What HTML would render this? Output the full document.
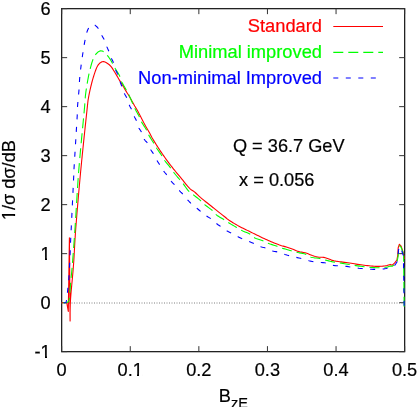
<!DOCTYPE html>
<html><head><meta charset="utf-8"><title>plot</title>
<style>
html,body{margin:0;padding:0;background:#fff;}
svg{display:block;will-change:transform;}
text{font-family:"Liberation Sans",sans-serif;font-size:18.2px;fill:#000;stroke:#000;stroke-width:0.2px;}
</style></head><body>
<svg width="417" height="407" viewBox="0 0 417 407">
<rect width="417" height="407" fill="#fff"/>
<rect x="61.65" y="8.65" width="343.0" height="343.0" fill="none" stroke="#222" stroke-width="1.3"/>
<path d="M61.65,351.65 v-5.5 M61.65,8.65 v5.5 M130.25,351.65 v-5.5 M130.25,8.65 v5.5 M198.85,351.65 v-5.5 M198.85,8.65 v5.5 M267.45,351.65 v-5.5 M267.45,8.65 v5.5 M336.05,351.65 v-5.5 M336.05,8.65 v5.5 M404.65,351.65 v-5.5 M404.65,8.65 v5.5 M61.65,8.65 h5.5 M404.65,8.65 h-5.5 M61.65,57.65 h5.5 M404.65,57.65 h-5.5 M61.65,106.65 h5.5 M404.65,106.65 h-5.5 M61.65,155.65 h5.5 M404.65,155.65 h-5.5 M61.65,204.65 h5.5 M404.65,204.65 h-5.5 M61.65,253.65 h5.5 M404.65,253.65 h-5.5 M61.65,302.65 h5.5 M404.65,302.65 h-5.5 M61.65,351.65 h5.5 M404.65,351.65 h-5.5" stroke="#333" stroke-width="1" fill="none"/>
<path d="M61.5,303 H404.5" stroke="#808080" stroke-width="1" stroke-dasharray="1 1.5" fill="none"/>
<g fill="none" stroke-width="1.1" stroke-linejoin="round">
<path d="M61.65,302.75 L66.80,302.80 L68.30,311.50 L69.40,237.80 L70.10,321 L70.11,320.18 L70.11,319.22 L70.11,318.14 L70.11,316.94 L70.11,315.62 L70.11,314.20 L70.11,312.69 L70.13,311.08 L70.15,309.39 L70.18,307.63 L70.24,305.80 L70.30,303.92 L70.39,301.98 L70.50,300 L70.58,298.76 L70.67,297.47 L70.77,296.14 L70.88,294.77 L70.99,293.36 L71.11,291.92 L71.24,290.44 L71.38,288.94 L71.52,287.41 L71.66,285.86 L71.81,284.29 L71.96,282.70 L72.11,281.10 L72.26,279.49 L72.41,277.87 L72.55,276.25 L72.70,274.63 L72.85,273 L72.99,271.38 L73.12,269.77 L73.26,268.16 L73.38,266.57 L73.50,265 L73.61,263.51 L73.71,262.05 L73.80,260.61 L73.89,259.19 L73.98,257.78 L74.06,256.38 L74.14,254.99 L74.22,253.59 L74.30,252.19 L74.37,250.79 L74.45,249.37 L74.53,247.94 L74.60,246.48 L74.69,245.01 L74.77,243.50 L74.86,241.96 L74.95,240.39 L75.05,238.77 L75.16,237.11 L75.27,235.41 L75.39,233.64 L75.52,231.82 L75.65,229.95 L75.80,228 L75.90,226.74 L76,225.45 L76.10,224.13 L76.21,222.79 L76.31,221.43 L76.43,220.04 L76.54,218.63 L76.65,217.20 L76.77,215.75 L76.89,214.29 L77.01,212.80 L77.14,211.30 L77.26,209.79 L77.39,208.26 L77.52,206.72 L77.65,205.16 L77.79,203.60 L77.92,202.02 L78.06,200.44 L78.19,198.84 L78.33,197.25 L78.47,195.64 L78.61,194.03 L78.75,192.42 L78.90,190.80 L79.04,189.18 L79.18,187.56 L79.33,185.94 L79.48,184.32 L79.62,182.71 L79.77,181.10 L79.92,179.49 L80.06,177.89 L80.21,176.29 L80.36,174.71 L80.50,173.13 L80.65,171.56 L80.80,170 L80.94,168.51 L81.09,166.99 L81.24,165.44 L81.39,163.87 L81.55,162.27 L81.71,160.66 L81.87,159.02 L82.04,157.37 L82.20,155.71 L82.37,154.03 L82.54,152.35 L82.72,150.66 L82.89,148.97 L83.06,147.27 L83.24,145.57 L83.41,143.88 L83.59,142.19 L83.76,140.51 L83.94,138.84 L84.11,137.17 L84.29,135.53 L84.46,133.90 L84.63,132.29 L84.79,130.70 L84.96,129.13 L85.12,127.59 L85.28,126.08 L85.44,124.59 L85.59,123.14 L85.75,121.73 L85.89,120.35 L86.04,119.01 L86.17,117.71 L86.31,116.46 L86.44,115.26 L86.56,114.10 L86.68,112.99 L86.79,111.94 L86.90,110.94 L87,110 L87.41,106.14 L87.69,103.49 L87.88,101.76 L88.01,100.68 L88.11,99.96 L88.22,99.33 L88.37,98.50 L88.60,97.20 L88.86,95.73 L89.16,94.22 L89.47,92.69 L89.79,91.16 L90.13,89.63 L90.48,88.13 L90.82,86.66 L91.17,85.25 L91.50,83.90 L91.92,82.25 L92.35,80.65 L92.78,79.12 L93.22,77.65 L93.65,76.24 L94.08,74.89 L94.50,73.60 L95.08,71.87 L95.66,70.24 L96.24,68.74 L96.82,67.38 L97.40,66.20 L98.39,64.66 L99.38,63.54 L100.40,62.70 L101.94,61.81 L103.60,61.60 L105.59,62.31 L107.60,63.50 L109.32,64.74 L110.90,66.30 L111.89,67.63 L112.84,69.14 L113.80,70.70 L114.80,72.29 L115.80,73.94 L116.80,75.60 L117.77,77.26 L118.73,78.94 L119.70,80.60 L120.70,82.24 L121.70,83.87 L122.70,85.50 L123.63,87.06 L124.54,88.62 L125.60,90.40 L126.35,91.62 L127.15,92.93 L128.01,94.31 L128.89,95.77 L129.80,97.30 L130.60,98.69 L131.45,100.20 L132.33,101.77 L133.18,103.31 L133.99,104.74 L134.70,106 L135.79,107.81 L136.67,109.21 L137.70,111 L138.37,112.26 L139.13,113.71 L139.93,115.26 L140.72,116.81 L141.46,118.26 L142.10,119.50 L142.99,121.24 L143.66,122.56 L144.60,124.30 L145.29,125.52 L146.10,126.93 L146.98,128.43 L147.87,129.96 L148.73,131.44 L149.50,132.80 L150.26,134.19 L150.89,135.43 L151.51,136.63 L152.21,137.95 L153.10,139.50 L153.78,140.63 L154.52,141.86 L155.32,143.15 L156.16,144.51 L157.03,145.89 L157.92,147.28 L158.82,148.66 L159.70,150 L160.59,151.33 L161.49,152.67 L162.42,154.01 L163.35,155.36 L164.29,156.69 L165.23,158.02 L166.17,159.32 L167.10,160.60 L168.03,161.85 L168.95,163.09 L169.88,164.30 L170.80,165.51 L171.72,166.70 L172.65,167.87 L173.57,169.04 L174.50,170.20 L175.57,171.52 L176.66,172.84 L177.75,174.15 L178.83,175.43 L179.90,176.69 L180.92,177.92 L181.90,179.10 L183,180.45 L184.06,181.79 L185.08,183.08 L186.05,184.30 L186.96,185.42 L187.80,186.40 L189.22,187.94 L190.40,189.06 L191.50,190 L192.86,190.83 L194.50,191.90 L195.45,192.74 L196.51,193.76 L197.69,194.91 L198.99,196.14 L200.40,197.40 L201.52,198.34 L202.74,199.35 L204.04,200.39 L205.37,201.46 L206.70,202.51 L207.99,203.53 L209.20,204.50 L210.50,205.54 L211.73,206.53 L212.92,207.48 L214.11,208.43 L215.32,209.39 L216.60,210.40 L217.79,211.33 L219.05,212.33 L220.36,213.35 L221.65,214.37 L222.88,215.33 L224.02,216.22 L225,217 L226.47,218.25 L227.46,219.13 L229.10,220.30 L230.21,221.02 L231.51,221.83 L232.94,222.70 L234.46,223.60 L236.01,224.51 L237.54,225.39 L239,226.20 L240.39,226.95 L241.77,227.66 L243.14,228.34 L244.52,229.02 L245.92,229.69 L247.34,230.38 L248.80,231.10 L250.13,231.76 L251.49,232.43 L252.89,233.12 L254.29,233.82 L255.70,234.51 L257.10,235.19 L258.47,235.86 L259.80,236.50 L261.27,237.21 L262.71,237.89 L264.13,238.56 L265.52,239.22 L266.91,239.86 L268.30,240.49 L269.70,241.10 L271.14,241.71 L272.63,242.33 L274.13,242.94 L275.61,243.53 L277.02,244.07 L278.33,244.57 L279.50,245 L281.59,245.68 L283.20,246.10 L285,246.60 L286.35,247.01 L287.82,247.46 L289.34,247.93 L290.82,248.42 L292.20,248.90 L293.72,249.54 L295.11,250.21 L296.49,250.85 L298,251.40 L299.75,251.82 L301.64,252.16 L303.48,252.46 L305.10,252.80 L306.77,253.32 L308.14,253.86 L309.50,254.40 L310.91,254.95 L312.32,255.50 L313.80,256 L315.41,256.47 L317.11,256.89 L318.80,257.20 L320.49,257.30 L322.18,257.29 L323.80,257.40 L325.31,257.74 L326.76,258.20 L328.20,258.70 L329.59,259.26 L330.97,259.86 L332.50,260.40 L334.09,260.80 L335.83,261.13 L338.20,261.50 L339.53,261.69 L341.06,261.90 L342.73,262.11 L344.47,262.33 L346.22,262.55 L347.92,262.78 L349.50,263 L351.22,263.27 L352.88,263.54 L354.49,263.82 L356.09,264.09 L357.68,264.36 L359.30,264.60 L360.93,264.83 L362.56,265.05 L364.19,265.26 L365.83,265.46 L367.46,265.64 L369.10,265.80 L370.77,265.95 L372.47,266.10 L374.17,266.22 L375.84,266.33 L377.46,266.39 L379,266.40 L380.83,266.32 L382.68,266.14 L384.40,265.93 L385.86,265.73 L386.90,265.60 L390.30,264.40 L392.30,265.20 L394.70,262.90 L396.90,260 L397.70,255.60 L398.20,247.70 L399.40,244.30 L401.10,246.20 L402.80,251.10 L403.60,254.10 L404.30,259" stroke="#ff0000"/>
<path d="M61.65,302.75 L66.50,302.75 L68.60,301.60 L69.30,299.50 L69.37,298.57 L69.47,297.39 L69.57,296 L69.69,294.45 L69.82,292.76 L69.96,290.97 L70.11,289.14 L70.26,287.28 L70.41,285.45 L70.56,283.68 L70.70,282 L70.83,280.58 L70.95,279.25 L71.08,277.98 L71.21,276.74 L71.34,275.50 L71.47,274.22 L71.61,272.87 L71.75,271.43 L71.90,269.85 L72.06,268.11 L72.22,266.17 L72.40,264 L72.49,262.84 L72.59,261.65 L72.68,260.42 L72.78,259.16 L72.88,257.88 L72.98,256.55 L73.08,255.20 L73.19,253.81 L73.30,252.40 L73.40,250.94 L73.51,249.46 L73.62,247.94 L73.74,246.38 L73.85,244.80 L73.97,243.17 L74.09,241.52 L74.21,239.83 L74.33,238.10 L74.46,236.34 L74.58,234.54 L74.71,232.71 L74.84,230.84 L74.97,228.94 L75.10,227 L75.18,225.75 L75.27,224.48 L75.35,223.18 L75.44,221.86 L75.52,220.51 L75.61,219.15 L75.70,217.77 L75.78,216.36 L75.87,214.94 L75.96,213.51 L76.04,212.05 L76.13,210.58 L76.22,209.10 L76.31,207.60 L76.40,206.09 L76.49,204.57 L76.59,203.03 L76.68,201.49 L76.77,199.94 L76.87,198.38 L76.97,196.81 L77.06,195.24 L77.16,193.66 L77.26,192.08 L77.36,190.49 L77.46,188.90 L77.57,187.31 L77.67,185.72 L77.78,184.13 L77.89,182.55 L77.99,180.96 L78.10,179.38 L78.22,177.80 L78.33,176.23 L78.44,174.66 L78.56,173.10 L78.68,171.54 L78.80,170 L78.92,168.52 L79.04,167.02 L79.17,165.48 L79.30,163.92 L79.43,162.34 L79.57,160.74 L79.71,159.12 L79.85,157.48 L80,155.84 L80.15,154.18 L80.30,152.51 L80.45,150.83 L80.60,149.15 L80.76,147.46 L80.92,145.78 L81.07,144.09 L81.23,142.42 L81.39,140.74 L81.54,139.08 L81.70,137.42 L81.86,135.78 L82.01,134.16 L82.16,132.55 L82.32,130.96 L82.47,129.39 L82.61,127.85 L82.76,126.33 L82.90,124.85 L83.04,123.39 L83.18,121.96 L83.31,120.57 L83.44,119.22 L83.56,117.91 L83.69,116.63 L83.80,115.41 L83.91,114.22 L84.02,113.09 L84.12,112.01 L84.21,110.98 L84.30,110 L84.60,106.62 L84.81,103.99 L84.97,101.98 L85.07,100.44 L85.15,99.27 L85.21,98.32 L85.27,97.47 L85.34,96.58 L85.45,95.54 L85.60,94.20 L85.81,92.49 L86.05,90.77 L86.30,89.06 L86.56,87.35 L86.83,85.67 L87.10,84.03 L87.38,82.45 L87.64,80.93 L87.90,79.50 L88.22,77.79 L88.52,76.20 L88.83,74.70 L89.13,73.29 L89.45,71.91 L89.77,70.56 L90.10,69.20 L90.50,67.61 L90.91,66.03 L91.33,64.50 L91.77,63.02 L92.22,61.62 L92.70,60.30 L93.45,58.47 L94.24,56.79 L95.08,55.30 L96,54 L97.41,52.54 L98.94,51.42 L100.40,50.80 L102.34,51.07 L104.10,52.10 L105.54,53.29 L107,55 L107.91,56.14 L108.91,57.45 L109.92,58.89 L110.90,60.40 L111.61,61.65 L112.28,62.96 L112.96,64.33 L113.68,65.77 L114.50,67.30 L115.32,68.70 L116.25,70.24 L117.23,71.83 L118.18,73.39 L119.03,74.84 L119.70,76.10 L120.26,77.71 L120.40,78.89 L121.20,81 L121.71,81.99 L122.32,83.11 L123.03,84.36 L123.80,85.69 L124.61,87.09 L125.45,88.54 L126.29,90.01 L127.11,91.47 L127.89,92.91 L128.60,94.30 L129.27,95.68 L129.93,97.11 L130.58,98.57 L131.21,100.04 L131.83,101.51 L132.44,102.94 L133.03,104.34 L133.60,105.68 L134.16,106.94 L134.70,108.10 L135.57,109.85 L136.40,111.42 L137.19,112.84 L137.93,114.14 L138.60,115.35 L139.20,116.50 L140.01,118.37 L140.56,119.89 L141.40,121.70 L142.08,122.88 L142.89,124.19 L143.78,125.58 L144.67,126.97 L145.50,128.30 L146.20,129.50 L146.94,130.99 L147.47,132.28 L147.99,133.55 L148.70,135 L149.50,136.38 L150.43,137.90 L151.42,139.45 L152.37,140.95 L153.20,142.30 L154.20,144.08 L155.03,145.62 L156.10,147.40 L157.01,148.75 L158.08,150.26 L159.21,151.83 L160.28,153.34 L161.20,154.70 L162.03,156.10 L162.65,157.29 L163.30,158.49 L164.20,159.90 L165.04,161.03 L166.04,162.29 L167.11,163.61 L168.20,164.92 L169.22,166.17 L170.10,167.30 L171.11,168.69 L171.90,169.87 L172.69,171.04 L173.70,172.40 L174.58,173.50 L175.59,174.73 L176.66,176.02 L177.73,177.29 L178.73,178.47 L179.60,179.50 L180.84,180.94 L181.80,182.03 L183,183.50 L183.81,184.58 L184.72,185.86 L185.69,187.23 L186.67,188.59 L187.62,189.85 L188.50,190.90 L189.97,192.32 L191.31,193.32 L192.90,194.50 L194.10,195.44 L195.45,196.48 L196.86,197.56 L198.24,198.65 L199.50,199.70 L200.82,200.92 L201.98,202.11 L203.17,203.31 L204.60,204.60 L205.79,205.54 L207.14,206.55 L208.57,207.58 L209.98,208.61 L211.29,209.59 L212.40,210.50 L213.87,212.06 L214.93,213.45 L216.40,214.90 L217.52,215.71 L218.84,216.57 L220.27,217.44 L221.70,218.29 L223.05,219.09 L224.20,219.80 L225.80,220.87 L227.04,221.73 L228.70,222.80 L229.90,223.53 L231.31,224.37 L232.82,225.26 L234.34,226.14 L235.77,226.98 L237,227.70 L238.77,228.80 L240.17,229.67 L241.90,230.60 L243.33,231.24 L244.98,231.90 L246.70,232.57 L248.35,233.27 L249.80,234 L251.19,234.98 L252.31,236.03 L253.45,237.06 L254.90,238 L256.16,238.56 L257.60,239.09 L259.14,239.59 L260.68,240.07 L262.13,240.54 L263.40,241 L265.29,241.86 L266.82,242.66 L268.70,243.50 L270.23,244.06 L271.99,244.64 L273.81,245.23 L275.57,245.79 L277.10,246.30 L278.96,246.97 L280.48,247.55 L282.40,248.20 L283.71,248.61 L285.23,249.06 L286.84,249.52 L288.45,249.99 L289.97,250.42 L291.30,250.80 L293.26,251.37 L294.85,251.81 L296.80,252.30 L298.12,252.58 L299.62,252.86 L301.21,253.16 L302.80,253.47 L304.30,253.82 L305.60,254.20 L307.09,254.91 L308.24,255.74 L309.40,256.54 L310.90,257.20 L312.50,257.56 L314.34,257.83 L316.28,258.04 L318.15,258.25 L319.80,258.50 L321.48,258.88 L322.92,259.29 L324.28,259.70 L325.70,260.10 L327.17,260.49 L328.62,260.87 L330.14,261.24 L331.80,261.60 L333.23,261.87 L334.74,262.12 L336.32,262.37 L337.97,262.62 L339.70,262.90 L341.22,263.15 L342.83,263.41 L344.48,263.68 L346.16,263.96 L347.84,264.23 L349.50,264.50 L351.13,264.77 L352.77,265.05 L354.40,265.33 L356.03,265.60 L357.67,265.86 L359.30,266.10 L360.93,266.33 L362.56,266.56 L364.19,266.77 L365.83,266.97 L367.46,267.15 L369.10,267.30 L370.77,267.44 L372.47,267.56 L374.17,267.66 L375.84,267.74 L377.46,267.79 L379,267.80 L380.83,267.74 L382.68,267.61 L384.40,267.45 L385.86,267.30 L386.90,267.20 L390.30,266 L392.50,266.20 L394.90,264 L397.20,261 L398.20,256 L398.70,249 L399.70,245.70 L401.20,247.50 L402.80,252 L403.60,255" stroke="#00ff00" stroke-dasharray="10 5" stroke-dashoffset="-1.2"/>
<path d="M403.6,255 L404.15,307" stroke="#00ff00" stroke-dasharray="10 5" stroke-dashoffset="3.2"/>
<path d="M61.65,302.75 L66,302.75 L67,298 L67.09,296.86 L67.23,295.25 L67.39,293.27 L67.60,291 L67.72,289.74 L67.87,288.36 L68.03,286.89 L68.19,285.34 L68.36,283.76 L68.52,282.15 L68.67,280.56 L68.80,279 L68.91,277.46 L69.01,275.91 L69.10,274.35 L69.19,272.78 L69.27,271.21 L69.34,269.64 L69.42,268.07 L69.50,266.50 L69.58,264.94 L69.66,263.39 L69.74,261.83 L69.81,260.28 L69.89,258.72 L69.96,257.16 L70.03,255.59 L70.10,254 L70.17,252.39 L70.23,250.76 L70.29,249.12 L70.35,247.47 L70.41,245.82 L70.47,244.19 L70.53,242.58 L70.60,241 L70.66,239.73 L70.70,238.88 L70.73,238.20 L70.77,237.46 L70.83,236.42 L70.91,234.82 L71.03,232.43 L71.20,229 L71.25,228 L71.30,226.90 L71.36,225.70 L71.42,224.41 L71.49,223.04 L71.56,221.60 L71.63,220.08 L71.70,218.50 L71.78,216.87 L71.86,215.18 L71.95,213.45 L72.03,211.69 L72.12,209.89 L72.20,208.07 L72.29,206.23 L72.38,204.38 L72.47,202.52 L72.56,200.67 L72.65,198.83 L72.73,197 L72.82,195.19 L72.90,193.41 L72.99,191.67 L73.07,189.96 L73.15,188.31 L73.22,186.70 L73.30,185.16 L73.37,183.68 L73.43,182.28 L73.50,180.96 L73.55,179.72 L73.61,178.58 L73.66,177.54 L73.70,176.60 L73.85,172.96 L73.83,172.59 L73.77,173.27 L73.78,172.81 L74,169 L74.05,168.08 L74.11,167.06 L74.18,165.95 L74.25,164.74 L74.33,163.45 L74.41,162.08 L74.50,160.63 L74.59,159.12 L74.69,157.55 L74.79,155.93 L74.89,154.26 L74.99,152.54 L75.10,150.79 L75.21,149.01 L75.32,147.20 L75.43,145.38 L75.54,143.54 L75.66,141.70 L75.77,139.86 L75.88,138.02 L75.99,136.20 L76.10,134.39 L76.21,132.61 L76.32,130.86 L76.42,129.14 L76.52,127.47 L76.62,125.85 L76.72,124.28 L76.81,122.77 L76.89,121.32 L76.98,119.95 L77.05,118.66 L77.12,117.45 L77.19,116.34 L77.25,115.32 L77.30,114.40 L77.52,110.02 L77.54,108.43 L77.48,108.26 L77.43,108.17 L77.50,106.80 L77.59,105.59 L77.70,104.21 L77.84,102.70 L77.98,101.09 L78.14,99.42 L78.30,97.71 L78.46,95.99 L78.61,94.32 L78.76,92.70 L78.89,91.19 L79,89.80 L79.13,87.85 L79.23,86.09 L79.31,84.46 L79.39,82.89 L79.47,81.33 L79.57,79.72 L79.70,78 L79.85,76.40 L80.01,74.76 L80.19,73.09 L80.38,71.39 L80.58,69.69 L80.79,68 L80.99,66.33 L81.20,64.70 L81.41,63.07 L81.64,61.41 L81.88,59.75 L82.12,58.11 L82.35,56.51 L82.58,54.98 L82.80,53.53 L83,52.20 L83.29,50.29 L83.55,48.60 L83.80,47.09 L84.03,45.70 L84.25,44.40 L84.56,42.64 L84.84,41.21 L85.20,39.50 L85.49,38.14 L85.81,36.59 L86.16,34.98 L86.52,33.44 L86.90,32.10 L87.56,30.27 L88.26,28.76 L89,27.50 L90.22,26.10 L91.40,25.20 L93.20,24.60 L95,25.20 L96.08,26.06 L97.36,27.25 L98.60,28.80 L99.29,29.99 L99.98,31.40 L100.65,32.90 L101.30,34.34 L101.90,35.60 L102.79,37.15 L103.60,38.44 L104.40,40 L105.03,41.60 L105.68,43.43 L106.30,45.27 L106.90,46.90 L107.62,48.55 L108.29,49.96 L109,51.60 L109.59,53.22 L110.21,55.04 L110.82,56.85 L111.40,58.40 L112.40,60.34 L113.40,62.40 L113.86,63.77 L114.35,65.40 L114.85,67.14 L115.34,68.79 L115.80,70.20 L116.48,71.84 L117.12,73.11 L117.80,74.70 L118.27,76.03 L118.77,77.58 L119.29,79.18 L119.77,80.71 L120.20,82 L120.93,83.99 L121.70,86 L122.17,87.31 L122.71,88.86 L123.29,90.49 L123.87,92.06 L124.40,93.40 L125.19,94.98 L125.93,96.23 L126.70,97.80 L127.21,99.12 L127.73,100.65 L128.27,102.24 L128.79,103.77 L129.30,105.10 L130.07,106.72 L130.81,108.03 L131.60,109.60 L132.26,111.19 L132.96,113 L133.65,114.81 L134.30,116.40 L135.06,117.97 L135.77,119.29 L136.50,120.90 L137.08,122.56 L137.68,124.48 L138.29,126.38 L138.90,128 L139.71,129.44 L140.53,130.53 L141.40,132 L141.95,133.32 L142.52,134.89 L143.10,136.54 L143.69,138.10 L144.30,139.40 L145.34,140.79 L146.41,141.77 L147.50,143.10 L148.18,144.32 L148.88,145.77 L149.58,147.30 L150.26,148.75 L150.90,150 L151.82,151.45 L152.67,152.58 L153.60,154 L154.44,155.52 L155.36,157.29 L156.27,159.06 L157.10,160.60 L157.97,162.09 L158.75,163.32 L159.70,164.80 L160.45,165.99 L161.31,167.35 L162.22,168.76 L163.10,170.12 L163.90,171.30 L165,172.77 L165.98,173.97 L167.10,175.40 L167.92,176.55 L168.83,177.86 L169.76,179.22 L170.67,180.51 L171.50,181.60 L172.63,182.85 L173.63,183.79 L174.80,185 L175.69,186.06 L176.68,187.30 L177.71,188.61 L178.71,189.85 L179.60,190.90 L180.80,192.11 L181.84,193.03 L183,194.20 L184.08,195.47 L185.26,196.94 L186.43,198.41 L187.50,199.70 L188.59,200.96 L189.55,202 L190.80,203.20 L191.85,204.12 L193.07,205.14 L194.36,206.19 L195.61,207.20 L196.70,208.10 L198.07,209.27 L199.23,210.26 L200.60,211.40 L201.96,212.50 L203.51,213.72 L205.07,214.94 L206.50,216 L208.10,217.03 L209.56,217.87 L211.10,218.90 L212.39,219.96 L213.73,221.17 L215.09,222.39 L216.40,223.50 L218.03,224.70 L219.61,225.76 L221.30,226.90 L222.71,227.91 L224.21,228.99 L225.73,230.05 L227.20,231 L228.60,231.78 L229.96,232.46 L231.32,233.11 L232.70,233.80 L234.13,234.57 L235.59,235.38 L237.03,236.17 L238.40,236.90 L240.03,237.75 L241.58,238.52 L243.30,239.30 L244.86,239.93 L246.58,240.59 L248.28,241.22 L249.80,241.80 L251.37,242.40 L252.73,242.93 L254.30,243.60 L255.82,244.33 L257.52,245.18 L259.24,246.02 L260.80,246.70 L262.48,247.20 L263.98,247.51 L265.70,248 L266.98,248.52 L268.39,249.17 L269.86,249.86 L271.29,250.50 L272.60,251 L274.42,251.43 L276.06,251.63 L277.90,252 L279.23,252.42 L280.70,252.94 L282.20,253.51 L283.67,254.05 L285,254.50 L286.84,255.04 L288.48,255.45 L290.30,255.90 L291.96,256.32 L293.78,256.77 L295.58,257.21 L297.20,257.60 L298.91,257.98 L300.39,258.29 L302.10,258.70 L303.73,259.16 L305.55,259.71 L307.37,260.25 L309,260.70 L310.69,261.11 L312.16,261.42 L313.90,261.70 L315.61,261.92 L317.54,262.12 L319.47,262.32 L321.20,262.50 L322.99,262.65 L324.53,262.78 L326.30,263.10 L327.96,263.60 L329.80,264.26 L331.66,264.92 L333.40,265.40 L335.41,265.67 L337.28,265.72 L339.30,265.80 L341.04,265.93 L342.90,266.07 L344.76,266.22 L346.50,266.40 L348.54,266.67 L350.44,266.98 L352.40,267.30 L354.01,267.56 L355.69,267.83 L357.35,268.09 L358.90,268.30 L360.68,268.47 L362.33,268.57 L364.20,268.70 L365.93,268.85 L367.84,269.02 L369.75,269.19 L371.50,269.30 L373.41,269.36 L375.13,269.35 L377,269.30 L378.67,269.24 L380.49,269.16 L382.28,269.05 L383.90,268.90 L385.86,268.57 L387.60,268.18 L388.80,267.90 L392.50,267 L395,265 L397,262 L398,257 L398.50,250 L399.70,246.50 L401.20,248 L402.10,252 L403.40,255.50" stroke="#0000ff" stroke-dasharray="5 7.5" stroke-dashoffset="-2"/>
<path d="M403.4,255.5 L404.15,306.2" stroke="#0000ff" stroke-dasharray="5 7.5" stroke-dashoffset="4.7"/>
<path d="M333.3,26.5 H383" stroke="#ff0000"/>
<path d="M333.3,52.4 H383" stroke="#00ff00" stroke-dasharray="10 5"/>
<path d="M333.3,78 H383" stroke="#0000ff" stroke-dasharray="5 7.5"/>
</g>
<text x="50.7" y="15.1" text-anchor="end">6</text><text x="50.7" y="64.0" text-anchor="end">5</text><text x="50.7" y="113.1" text-anchor="end">4</text><text x="50.7" y="162.1" text-anchor="end">3</text><text x="50.7" y="211.1" text-anchor="end">2</text><text x="50.7" y="260.1" text-anchor="end">1</text><text x="50.7" y="309.0" text-anchor="end">0</text><text x="50.7" y="358.0" text-anchor="end">-1</text>
<text x="61.6" y="376.0" text-anchor="middle">0</text><text x="130.2" y="376.0" text-anchor="middle">0.1</text><text x="198.8" y="376.0" text-anchor="middle">0.2</text><text x="267.4" y="376.0" text-anchor="middle">0.3</text><text x="336.0" y="376.0" text-anchor="middle">0.4</text><text x="404.6" y="376.0" text-anchor="middle">0.5</text>
<text x="322.0" y="32.4" text-anchor="end" style="font-size:18.3px;fill:#ff0000;stroke:#ff0000">Standard</text>
<text x="322.0" y="58.2" text-anchor="end" style="font-size:18.3px;fill:#00ff00;stroke:#00ff00">Minimal improved</text>
<text x="322.0" y="83.8" text-anchor="end" style="font-size:18.3px;fill:#0000ff;stroke:#0000ff">Non-minimal Improved</text>
<text x="232.9" y="151.8">Q = 36.7 GeV</text>
<text x="239.1" y="186.4">x = 0.056</text>
<text x="218.8" y="402.1">B<tspan dy="5.4" font-size="14.56">zE</tspan></text>
<text transform="translate(14.7,220.2) rotate(-90)">1/σ dσ/dB</text>
<g fill="#fff">
<rect x="40.4" y="257.4" width="4.6" height="3.2"/><rect x="47" y="257.4" width="3.8" height="3.2"/>
<rect x="40.4" y="355.4" width="4.6" height="3.2"/><rect x="47" y="355.4" width="3.8" height="3.2"/>
<rect x="133.4" y="373.4" width="3.6" height="3.2"/><rect x="139" y="373.4" width="3.8" height="3.2"/>
<rect x="12.5" y="210.4" width="3.6" height="3.6"/><rect x="12.5" y="216" width="3.6" height="3.4"/>
</g>
</svg>
</body></html>
